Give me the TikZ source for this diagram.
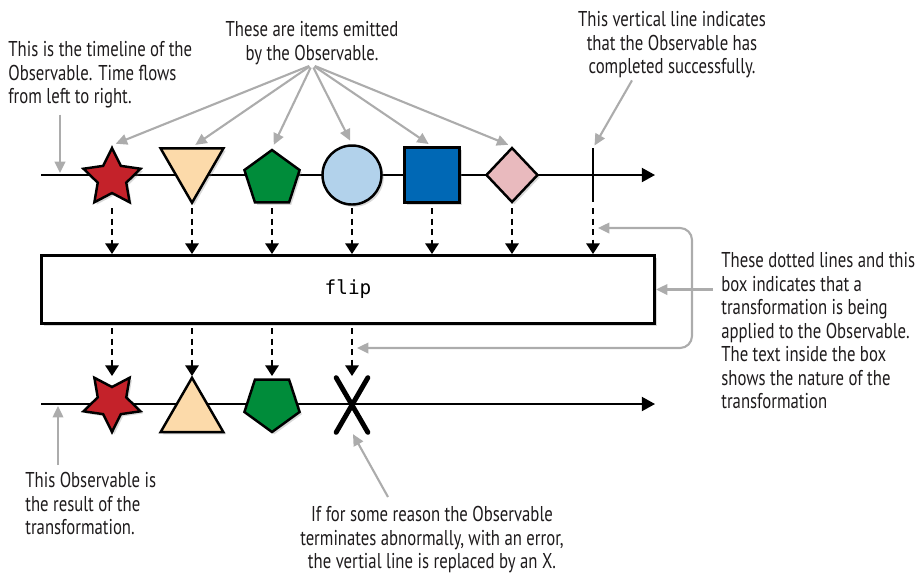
\documentclass[tikz,border=0pt]{standalone}
\usepackage{fontspec}
\setmainfont{PT Sans}[FakeStretch=0.78]
\setmonofont{DejaVu Sans Mono}
\usetikzlibrary{shapes.geometric,arrows.meta,shadows,calc}
\definecolor{starred}{RGB}{196,34,42}
\definecolor{peach}{RGB}{252,218,170}
\definecolor{leafgreen}{RGB}{0,140,58}
\definecolor{skyblue}{RGB}{178,210,235}
\definecolor{royalblue}{RGB}{0,104,181}
\definecolor{rosepink}{RGB}{233,186,190}
\definecolor{notegray}{RGB}{172,172,172}
\definecolor{inkgray}{RGB}{30,27,28}

\begin{document}
\begin{tikzpicture}[x=0.2mm,y=-0.2mm]
        \tikzstyle{every node}=[inner sep=0pt]
        \tikzstyle{item}=[draw=black, line width=1.4pt, drop shadow={opacity=0.3, shadow xshift=1.3pt, shadow yshift=-1.3pt}]
        \tikzstyle{notetext}=[text=inkgray, font=\fontsize{12.2}{13.4}\selectfont]
        \tikzstyle{timeline}=[line width=1.1pt, -{Triangle[width=8pt,length=7.5pt]}]
        \tikzstyle{flow}=[line width=1.2pt, dash pattern=on 1.2mm off 0.9mm, -{Triangle[width=7.5pt,length=6pt]}]
        \tikzstyle{note}=[draw=notegray, line width=1.2pt, -{Triangle[width=6pt,length=6.5pt]}]
        \useasboundingbox (0,0) rectangle (919,573);
        % timelines
        \coordinate (in0) at (41,175); \coordinate (in1) at (655,175);
        \coordinate (out0) at (41,404); \coordinate (out1) at (655,404);
        \draw[timeline] (in0) -- (in1);
        \draw[timeline] (out0) -- (out1);
        % emitted items
        \node[item, star, star points=5, star point ratio=2.0, minimum size=12mm, fill=starred] (s1) at (112,178) {};
        \node[item, regular polygon, regular polygon sides=3, shape border rotate=180, minimum size=14.5mm, fill=peach] (t1) at (192,166.5) {};
        \node[item, regular polygon, regular polygon sides=5, minimum size=11.6mm, fill=leafgreen] (p1) at (272,179) {};
        \node[item, circle, minimum size=11.8mm, fill=skyblue] (c1) at (352,175) {};
        \node[item, rectangle, minimum size=11mm, fill=royalblue] (q1) at (432,175) {};
        \node[item, diamond, minimum width=10.4mm, minimum height=11mm, fill=rosepink] (d1) at (512,175) {};
        \node[minimum height=10.6mm] (done) at (593,175) {};
        \draw[line width=1.2pt] (done.north) -- (done.south);
        % operator box
        \node[draw, line width=1.7pt, fill=white, minimum width=122.6mm, minimum height=13.6mm,
              drop shadow={opacity=0.3, shadow xshift=1.5pt, shadow yshift=-1.5pt},
              font=\ttfamily\fontsize{11}{13}\selectfont] (box) at (348,289.5) {flip};
        % result items
        \node[item, star, star points=5, star point ratio=2.0, minimum size=12mm, shape border rotate=180, fill=starred] (s2) at (112,402) {};
        \node[item, regular polygon, regular polygon sides=3, minimum size=14.5mm, fill=peach] (t2) at (192,414) {};
        \node[item, regular polygon, regular polygon sides=5, shape border rotate=180, minimum size=11.6mm, fill=leafgreen] (p2) at (272,403) {};
        \node[minimum width=6.2mm, minimum height=10.8mm] (err) at (352,405) {};
        \draw[line width=2.8pt, line cap=round] (err.north west) -- (err.south east);
        \draw[line width=2.8pt, line cap=round] (err.north east) -- (err.south west);
        % dashed flow into and out of the box
        \coordinate (upper) at (0,208);
        \coordinate (lower) at (0,328);
        \coordinate (lowtip) at (0,376);
        \foreach \n in {s1,t1,p1,c1,q1,d1,done}
            \draw[flow] (\n |- upper) -- (\n |- box.north);
        \foreach \n in {s2,t2,p2,err}
            \draw[flow] (\n |- lower) -- (\n |- lowtip);
        % notes
        \node[notetext, anchor=north west, align=left] (tlnote) at (8,41) {This is the timeline of the\\Observable. Time flows\\from left to right.};
        \node[notetext, anchor=north, align=center] (itemsnote) at (312,21) {These are items emitted\\by the Observable.};
        \node[notetext, anchor=north, align=center] (donenote) at (672,11) {This vertical line indicates\\that the Observable has\\completed successfully.};
        \node[notetext, anchor=north west, align=left] (boxnote) at (721,252) {These dotted lines and this\\box indicates that a\\transformation is being\\applied to the Observable.\\The text inside the box\\shows the nature of the\\transformation};
        \node[notetext, anchor=north west, align=left] (resnote) at (25,472) {This Observable is\\the result of the\\transformation.};
        \node[notetext, anchor=north, align=center] (errnote) at (432,506) {If for some reason the Observable\\terminates abnormally, with an error,\\the vertial line is replaced by an X.};
        % note arrows
        \coordinate (tlpt) at (60,173);
        \coordinate (respt) at (58,406);
        \coordinate (bend) at (692,0);
        \coordinate (ctop) at (598,228);
        \coordinate (cbot) at (357,348);
        \draw[note, shorten <=1.2mm] (tlnote.south -| tlpt) -- (tlpt);
        \foreach \n in {s1,t1,p1,c1,q1,d1}
            \draw[note, shorten <=0.6mm, shorten >=0.8mm] (itemsnote.south) -- (\n.north);
        \draw[note, shorten >=0.6mm] ($(donenote.south)+(-40,2)$) -- (done.north);
        \draw[note, shorten <=1.6mm] (boxnote.west |- box.east) -- (box.east);
        \draw[note, {Triangle[width=6pt,length=6.5pt]}-{Triangle[width=6pt,length=6.5pt]}, rounded corners=2.4mm]
            (ctop) -- (ctop -| bend) -- (cbot -| bend) -- (cbot);
        \draw[note, shorten <=1.4mm] (resnote.north -| respt) -- (respt);
        \draw[note, shorten >=0.4mm] ($(errnote.north)+(-44,-9)$) -- (err.south);
\end{tikzpicture}
\end{document}
